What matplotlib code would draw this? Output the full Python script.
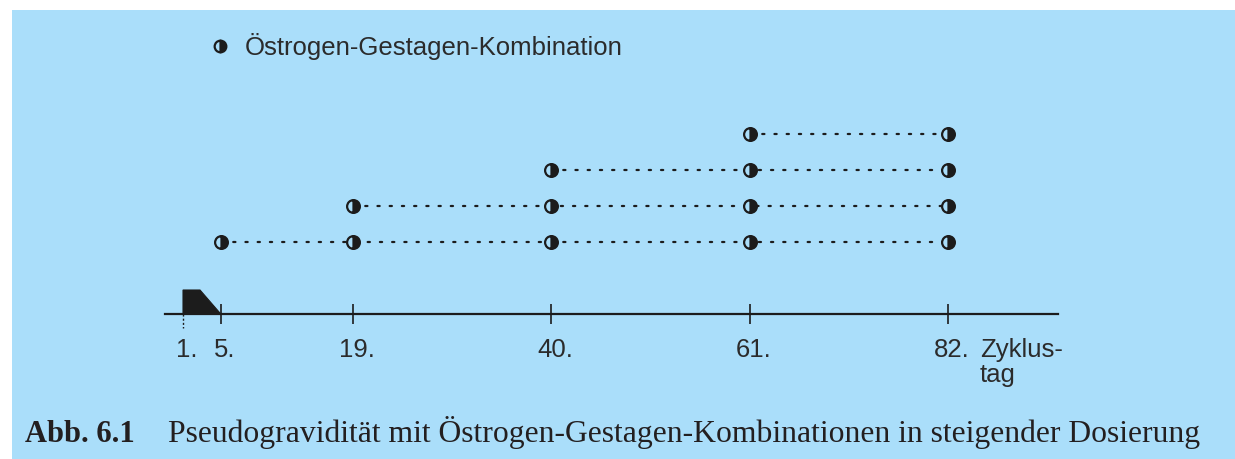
import matplotlib
matplotlib.use("Agg")
import matplotlib.pyplot as plt
from matplotlib.patches import Rectangle, Polygon
from matplotlib.transforms import ScaledTranslation, blended_transform_factory

# ---- data ----
tick_days = [1, 5, 19, 40, 61, 82]
tick_labels = ["1.", "5.", "19.", "40.", "61.", "82."]
dose_days = [5, 19, 40, 61, 82]          # days on which a dose is given
row_start = [5, 19, 40, 61]              # first dose day of each treatment course
row_level = [2, 3, 4, 5]                 # vertical level of each course
end_day = 82
bleed_days = [1, 5]                      # bleeding period (black shape)
legend_label = "Östrogen-Gestagen-Kombination"
axis_title = "Zyklus-\ntag"
caption_num = "Abb. 6.1"
caption_text = "Pseudogravidität mit Östrogen-Gestagen-Kombinationen in steigender Dosierung"

# ---- style ----
W, H = 1235, 459
BG = "#AADEFA"
INK = "#1c1c1c"
TXT = "#2b2b2b"
SANS = ["Liberation Sans", "DejaVu Sans"]
SERIF = ["Liberation Serif", "DejaVu Serif"]
FS = 18.5

fig = plt.figure(figsize=(W / 100, H / 100), dpi=100, facecolor="white")
fig.patches.append(Rectangle((12 / W, 0), 1, (H - 10) / H, transform=fig.transFigure,
                             facecolor=BG, edgecolor="none", zorder=-10))

# axes: left/right = timeline extent, bottom = timeline
x0px, x1px, ybase, ytop = 165, 1058, 314, 0
ax = fig.add_axes([x0px / W, (H - ybase) / H, (x1px - x0px) / W, (ybase - ytop) / H])
ax.set_facecolor("none")
px_per_day = (948 - 183) / (82 - 1)
ax.set_xlim(1 - (183 - x0px) / px_per_day, 1 + (x1px - 183) / px_per_day)
ax.set_ylim(0, (ybase - ytop) / 36.0)
for s in ["top", "left", "right"]:
    ax.spines[s].set_visible(False)
ax.spines["bottom"].set_linewidth(1.6)
ax.spines["bottom"].set_color(INK)
ax.set_yticks([])

ax.set_xticks(tick_days)
ax.set_xticklabels(tick_labels, fontsize=FS, color=TXT, family=SANS)
ax.tick_params(axis="x", direction="inout", length=14, width=1.2, color=INK, pad=10)
# shift labels so the number (not the dot) is centred on the tick
shift = ScaledTranslation(3.5 / 100, 0, fig.dpi_scale_trans)
for lab in ax.get_xticklabels():
    lab.set_transform(lab.get_transform() + shift)
# day-1 tick: dashed, below the line only
ax.xaxis.get_major_ticks()[0].tick1line.set_visible(False)
trans_b = blended_transform_factory(ax.transData, ax.transAxes)
ax.plot([tick_days[0], tick_days[0]], [0, -14 / (ybase - ytop)], transform=trans_b,
        color=INK, lw=1.0, ls=(0, (1.5, 1.5)), clip_on=False)

# axis title next to the last label (baseline of last line)
ax.text(tick_days[-1], 0, axis_title,
        transform=ax.transData + ScaledTranslation(32 / 100, -68 / 100, fig.dpi_scale_trans),
        ha="left", va="baseline", fontsize=FS, color=TXT, family=SANS, linespacing=1.05,
        multialignment="left", clip_on=False)

# bleeding shape
h = 24 / 36.0
plateau_end = bleed_days[0] + 0.45 * (bleed_days[1] - bleed_days[0])
ax.add_patch(Polygon([(bleed_days[0], 0), (bleed_days[0], h), (plateau_end, h), (bleed_days[1], 0)],
                     closed=True, facecolor=INK, edgecolor=INK, lw=0.8, zorder=3))

# courses
mk = dict(marker="o", ms=9.2, mew=1.6, mec=INK, mfc=INK, mfcalt=BG, fillstyle="right")
for start, lvl in zip(row_start, row_level):
    ax.plot([start, end_day], [lvl, lvl], color=INK, lw=1.6, ls=(0, (1, 4.5)),
            dash_capstyle="round", zorder=2)
    days = [d for d in dose_days if d >= start]
    ax.plot(days, [lvl] * len(days), ls="none", zorder=4, **mk)

# legend
lmk = dict(mk, ms=8.4)
ax.plot([(220 - x0px) / (x1px - x0px)], [(ybase - 46) / (ybase - ytop)], transform=ax.transAxes,
        ls="none", clip_on=False, **lmk)
ax.text((245 - x0px) / (x1px - x0px), (ybase - 46) / (ybase - ytop), legend_label, transform=ax.transAxes,
        ha="left", va="center", fontsize=FS, color=TXT, family=SANS)

# caption
fig.text(25 / W, (H - 442) / H, caption_num, ha="left", va="baseline", fontsize=22,
         fontweight="bold", color="#231f20", family=SERIF)
fig.text(168 / W, (H - 442) / H, caption_text, ha="left", va="baseline", fontsize=22.8,
         color="#231f20", family=SERIF)

fig.savefig("out.png", dpi=100, facecolor="white")
